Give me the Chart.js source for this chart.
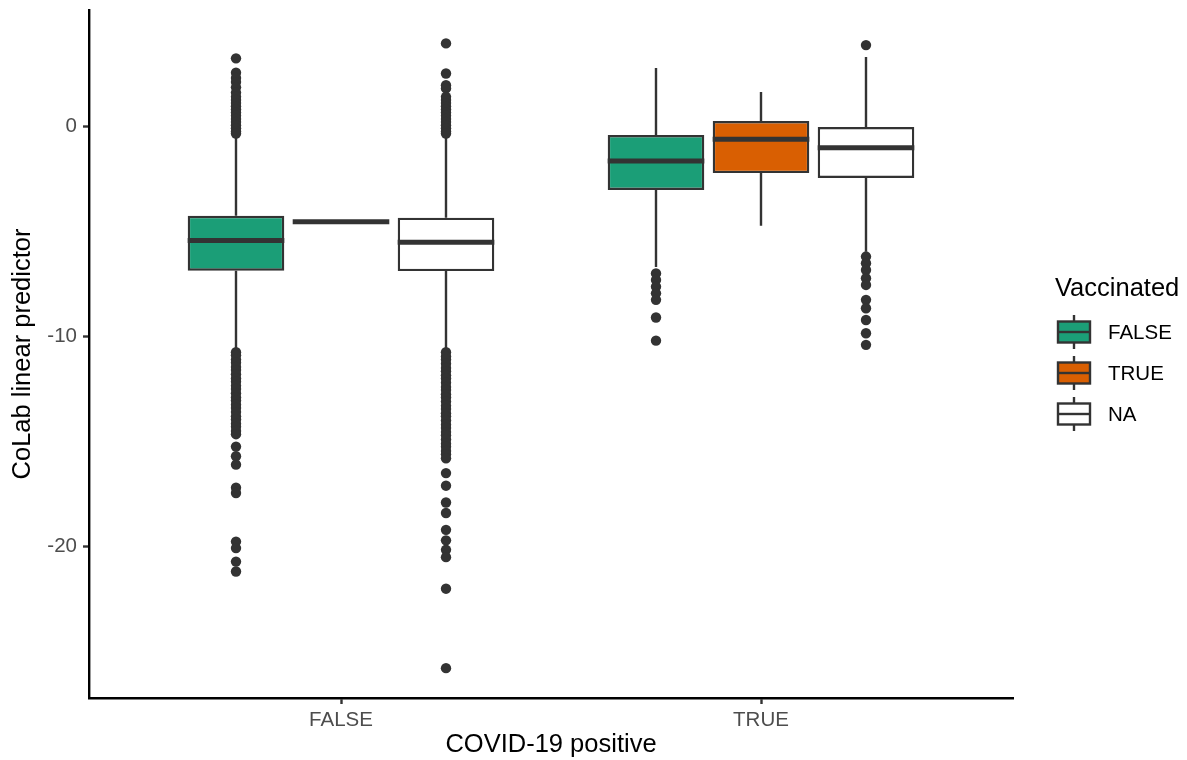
<!DOCTYPE html>
<html>
<head>
<meta charset="utf-8">
<script src="https://cdn.jsdelivr.net/npm/chart.js@4.4.0/dist/chart.umd.min.js"></script>
<style>
  html, body { margin: 0; padding: 0; background: #fff; }
  #wrap { width: 1187px; height: 760px; position: relative; }
</style>
</head>
<body>
<div id="wrap"><canvas id="box"></canvas></div>
<script>
// categories
const xLabels = ['FALSE', 'TRUE'];          // COVID-19 positive
const vaccLabels = ['FALSE', 'TRUE', 'NA']; // Vaccinated
const yTicks = [-20, -10, 0];

// box stats, order: COVID FALSE (vacc FALSE, TRUE, NA), COVID TRUE (vacc FALSE, TRUE, NA)
const whiskerLow  = [-10.60, -4.54, -10.60, -6.70, -4.73, -5.97];
const q1          = [ -6.87, -4.54,  -6.89, -3.03, -2.23, -2.46];
const median      = [ -5.44, -4.54,  -5.52, -1.65, -0.62, -1.02];
const q3          = [ -4.26, -4.54,  -4.35, -0.42,  0.25, -0.04];
const whiskerHigh = [ -0.45, -4.54,  -0.45,  2.77,  1.63,  3.30];

const outliers = [
  // COVID FALSE, vacc FALSE
  [3.23, 2.55, 2.3, 2.1, 1.85, 1.6, 1.4, 1.25, 1.1, 0.95, 0.8, 0.65, 0.5, 0.35, 0.2, 0.05, -0.1, -0.25, -0.35,
   -10.75, -10.9, -11.1, -11.25, -11.45, -11.6, -11.8, -12.0, -12.15, -12.35, -12.5, -12.7, -12.9, -13.05,
   -13.25, -13.4, -13.6, -13.8, -13.95, -14.15, -14.3, -14.5, -14.65, -15.24, -15.7, -16.1, -17.2, -17.45,
   -19.76, -20.07, -20.71, -21.18],
  // COVID FALSE, vacc TRUE
  [],
  // COVID FALSE, vacc NA
  [3.94, 2.51, 1.95, 1.8, 1.4, 1.25, 1.1, 0.95, 0.8, 0.65, 0.5, 0.35, 0.2, 0.05, -0.1, -0.25, -0.35,
   -10.75, -10.95, -11.1, -11.3, -11.5, -11.65, -11.85, -12.0, -12.2, -12.4, -12.55, -12.75, -12.9, -13.1,
   -13.3, -13.45, -13.65, -13.8, -14.0, -14.2, -14.35, -14.55, -14.7, -14.9, -15.1, -15.25, -15.45, -15.6,
   -15.8, -16.5, -17.1, -17.9, -18.4, -19.2, -19.7, -20.15, -20.5, -22.0, -25.78],
  // COVID TRUE, vacc FALSE
  [-7.0, -7.31, -7.63, -7.95, -8.26, -9.1, -10.2],
  // COVID TRUE, vacc TRUE
  [],
  // COVID TRUE, vacc NA
  [3.86, -6.2, -6.52, -6.84, -7.23, -7.55, -8.26, -8.66, -9.22, -9.85, -10.4]
];

const INK = '#333333';
const fills = ['#1B9E77', '#D95F02', '#FFFFFF'];
const dodge = 0.25;

// dodged x position of each box
const boxX = median.map((_, i) => Math.floor(i / 3) + 1 + (i % 3 - 1) * dodge);

Chart.defaults.font.family = "'Liberation Sans', Arial, sans-serif";

const boxParts = {
  id: 'boxParts',
  beforeDatasetsDraw(chart) {
    const { ctx, scales: { x, y } } = chart;
    ctx.save();
    ctx.strokeStyle = INK;
    ctx.lineWidth = 2.4;
    boxX.forEach((bx, i) => {
      const px = x.getPixelForValue(bx);
      ctx.beginPath();
      ctx.moveTo(px, y.getPixelForValue(q3[i]));
      ctx.lineTo(px, y.getPixelForValue(whiskerHigh[i]));
      ctx.moveTo(px, y.getPixelForValue(q1[i]));
      ctx.lineTo(px, y.getPixelForValue(whiskerLow[i]));
      ctx.stroke();
    });
    ctx.restore();
  },
  afterDatasetsDraw(chart) {
    const { ctx, scales: { y } } = chart;
    const meta = chart.getDatasetMeta(0);
    ctx.save();
    ctx.strokeStyle = INK;
    ctx.lineWidth = 5;
    meta.data.forEach((bar, i) => {
      const { x, width } = bar.getProps(['x', 'width'], true);
      const py = y.getPixelForValue(median[i]);
      ctx.beginPath();
      ctx.moveTo(x - width / 2, py);
      ctx.lineTo(x + width / 2, py);
      ctx.stroke();
    });
    ctx.restore();
  }
};

const boxLegend = {
  id: 'boxLegend',
  afterDraw(chart) {
    const { ctx, chartArea } = chart;
    const left = chartArea.right + 44;
    ctx.save();
    ctx.fillStyle = '#000';
    ctx.font = "25.5px 'Liberation Sans', Arial, sans-serif";
    ctx.textBaseline = 'middle';
    ctx.fillText('Vaccinated', left - 2, 289);
    ctx.font = "20.5px 'Liberation Sans', Arial, sans-serif";
    vaccLabels.forEach((lab, i) => {
      const cy = 332 + i * 41;
      const kx = left + 1, kw = 32, kh = 21;
      ctx.strokeStyle = INK;
      ctx.lineWidth = 2.4;
      ctx.beginPath();
      ctx.moveTo(kx + kw / 2, cy - 17);
      ctx.lineTo(kx + kw / 2, cy + 17);
      ctx.stroke();
      ctx.fillStyle = fills[i];
      ctx.fillRect(kx, cy - kh / 2, kw, kh);
      ctx.strokeRect(kx, cy - kh / 2, kw, kh);
      ctx.beginPath();
      ctx.moveTo(kx, cy);
      ctx.lineTo(kx + kw, cy);
      ctx.stroke();
      ctx.fillStyle = '#000';
      ctx.fillText(lab, left + 51, cy + 1);
    });
    ctx.restore();
  }
};

const tickGrid = { drawOnChartArea: false, tickLength: 6, tickColor: INK, tickWidth: 2.4, offset: false };
const axisBorder = { color: '#000', width: 2.4 };

new Chart(document.getElementById('box'), {
  type: 'bar',
  data: {
    datasets: [
      {
        type: 'bar',
        data: boxX.map((bx, i) => ({ x: bx, y: [q1[i], q3[i]] })),
        backgroundColor: boxX.map((_, i) => fills[i % 3]),
        borderColor: INK, borderWidth: 2.4, borderSkipped: false,
        categoryPercentage: 1, barPercentage: 0.92
      },
      {
        type: 'scatter',
        data: outliers.flatMap((vals, i) => vals.map(v => ({ x: boxX[i], y: v }))),
        pointRadius: 5.2, pointBorderWidth: 0, pointBackgroundColor: INK
      }
    ]
  },
  options: {
    responsive: true, maintainAspectRatio: false, animation: false, events: [],
    layout: { padding: { top: 10, right: 174, left: 0, bottom: 0 } },
    plugins: { legend: { display: false }, tooltip: { enabled: false } },
    scales: {
      x: {
        type: 'linear', min: 0.4, max: 2.6, offset: false,
        afterBuildTicks: s => { s.ticks = xLabels.map((_, i) => ({ value: i + 1 })); },
        afterFit: s => { s.height = 62; s.paddingLeft = 0; s.paddingRight = 0; },
        ticks: { callback: (v, i) => xLabels[i], color: '#4D4D4D', font: { size: 20.5 }, padding: 4, maxRotation: 0, autoSkip: false },
        grid: tickGrid, border: axisBorder,
        title: { display: true, text: 'COVID-19 positive', color: '#000', font: { size: 25.5, lineHeight: 1 }, padding: { top: 0, bottom: 2 } }
      },
      y: {
        type: 'linear', min: -27.2, max: 5.53,
        afterBuildTicks: s => { s.ticks = yTicks.map(v => ({ value: v })); },
        afterFit: s => { s.width = 89; s.paddingTop = 0; s.paddingBottom = 0; },
        ticks: { callback: v => String(v), color: '#4D4D4D', font: { size: 20.5 }, padding: 6 },
        grid: tickGrid, border: axisBorder,
        title: { display: true, text: 'CoLab linear predictor', color: '#000', font: { size: 25.5, lineHeight: 1 }, padding: { top: 10, bottom: 0 } }
      }
    }
  },
  plugins: [boxParts, boxLegend]
});
</script>
</body>
</html>
